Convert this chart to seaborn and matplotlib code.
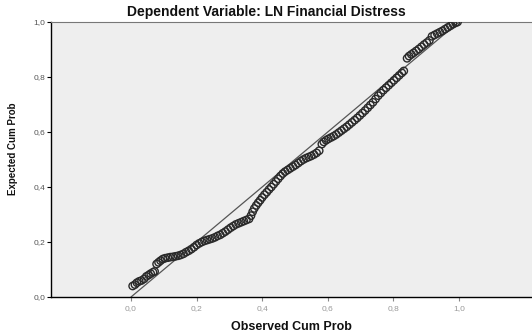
import matplotlib
matplotlib.use("Agg")
import matplotlib.pyplot as plt
import seaborn as sns
import pandas as pd

observed = [0.005, 0.012, 0.018, 0.025, 0.032, 0.040, 0.047, 0.054, 0.060, 0.067, 0.072,
            0.078, 0.084, 0.090, 0.097, 0.104, 0.112, 0.120, 0.128, 0.136, 0.144, 0.152, 0.160,
            0.168, 0.176, 0.184, 0.192, 0.200, 0.208, 0.216, 0.224, 0.232, 0.240, 0.248, 0.256,
            0.264, 0.272, 0.280, 0.288, 0.296, 0.304, 0.312, 0.320, 0.328, 0.336, 0.344, 0.352, 0.360,
            0.366, 0.371, 0.376, 0.382, 0.388, 0.394, 0.400, 0.407, 0.414, 0.421, 0.428, 0.435,
            0.442, 0.449, 0.456, 0.463, 0.470, 0.478, 0.486, 0.494, 0.502, 0.510, 0.518, 0.526,
            0.534, 0.542, 0.550, 0.558, 0.566, 0.574,
            0.582, 0.588, 0.595, 0.602, 0.610, 0.618, 0.626, 0.634, 0.642, 0.650, 0.658, 0.666,
            0.674, 0.682, 0.690, 0.698, 0.706, 0.714, 0.722, 0.730, 0.738, 0.746, 0.754, 0.762,
            0.770, 0.778, 0.786, 0.794, 0.802, 0.810, 0.818, 0.826, 0.832,
            0.842, 0.848, 0.855, 0.862, 0.870, 0.878, 0.886, 0.894, 0.902, 0.910,
            0.918, 0.926, 0.934, 0.942, 0.950, 0.958, 0.966, 0.974, 0.982, 0.990, 0.996]
expected = [0.040, 0.045, 0.052, 0.057, 0.060, 0.066, 0.075, 0.080, 0.085, 0.090, 0.093,
            0.120, 0.126, 0.132, 0.138, 0.141, 0.143, 0.145, 0.146, 0.148, 0.150, 0.153, 0.157,
            0.163, 0.168, 0.174, 0.181, 0.189, 0.195, 0.200, 0.204, 0.207, 0.210, 0.213, 0.217,
            0.222, 0.226, 0.232, 0.238, 0.245, 0.252, 0.258, 0.264, 0.268, 0.272, 0.276, 0.280, 0.284,
            0.296, 0.310, 0.322, 0.333, 0.343, 0.352, 0.362, 0.372, 0.381, 0.391, 0.400, 0.410,
            0.420, 0.430, 0.440, 0.449, 0.456, 0.462, 0.468, 0.474, 0.480, 0.487, 0.494, 0.500,
            0.505, 0.509, 0.513, 0.518, 0.524, 0.532,
            0.556, 0.564, 0.570, 0.575, 0.580, 0.585, 0.591, 0.598, 0.605, 0.612, 0.619, 0.627,
            0.635, 0.643, 0.651, 0.660, 0.669, 0.678, 0.688, 0.698, 0.708, 0.720, 0.732, 0.742,
            0.752, 0.761, 0.770, 0.779, 0.788, 0.797, 0.806, 0.815, 0.822,
            0.868, 0.876, 0.882, 0.888, 0.895, 0.902, 0.910, 0.918, 0.925, 0.933,
            0.948, 0.953, 0.958, 0.963, 0.968, 0.974, 0.980, 0.986, 0.992, 0.997, 1.000]

ref_line = [0.0, 1.0]
x_ticks = [0.0, 0.2, 0.4, 0.6, 0.8, 1.0]
x_tick_labels = ["0,0", "0,2", "0,4", "0,6", "0,8", "1,0"]
y_ticks = [0.0, 0.2, 0.4, 0.6, 0.8, 1.0]
y_tick_labels = ["0,0", "0,2", "0,4", "0,6", "0,8", "1,0"]

title = "Dependent Variable: LN Financial Distress"
x_label = "Observed Cum Prob"
y_label = "Expected Cum Prob"

sns.set_theme(style="white")
plt.rcParams["font.family"] = ["Liberation Sans", "DejaVu Sans"]

df = pd.DataFrame({"obs": observed, "exp": expected})
ref = pd.DataFrame({"x": ref_line, "y": ref_line})

fig = plt.figure(figsize=(5.32, 3.33), dpi=100)
ax = fig.add_axes([51 / 532, 36 / 333, 1 - 51 / 532, 275 / 333])
ax.set_facecolor("#EEEEEE")

sns.lineplot(data=ref, x="x", y="y", ax=ax, color="#555555", linewidth=0.9)
sns.scatterplot(data=df, x="obs", y="exp", ax=ax, marker="o", s=28,
                facecolor="none", edgecolor="#2a2a2a", linewidth=1.0, zorder=3)

ax.set_xlim(-0.244, 1.223)
ax.set_ylim(0, 1.0)
ax.set_xticks(x_ticks)
ax.set_xticklabels(x_tick_labels, fontsize=6, color="#999999")
ax.set_yticks(y_ticks)
ax.set_yticklabels(y_tick_labels, fontsize=6, color="#555555")
ax.tick_params(axis="x", length=3, width=0.8, color="#888888", pad=3, bottom=True)
ax.tick_params(axis="y", length=3, width=0.8, color="#000000", pad=1, left=True)

for side in ["left", "bottom"]:
    ax.spines[side].set_color("#000000")
    ax.spines[side].set_linewidth(1.0)
ax.spines["top"].set_color("#777777")
ax.spines["top"].set_linewidth(0.8)
ax.spines["right"].set_visible(False)

ax.set_xlabel(x_label, fontsize=9, fontweight="bold", color="#111111", labelpad=6)
ax.set_ylabel(y_label, fontsize=7, fontweight="bold", color="#111111")
ax.yaxis.set_label_coords((18 - 51) / 481, (297 - 149) / 275)
fig.text(266 / 532, 1 - 12 / 333, title, ha="center", va="center",
         fontsize=10, fontweight="bold", color="#111111")

fig.savefig("out.png", dpi=100)
